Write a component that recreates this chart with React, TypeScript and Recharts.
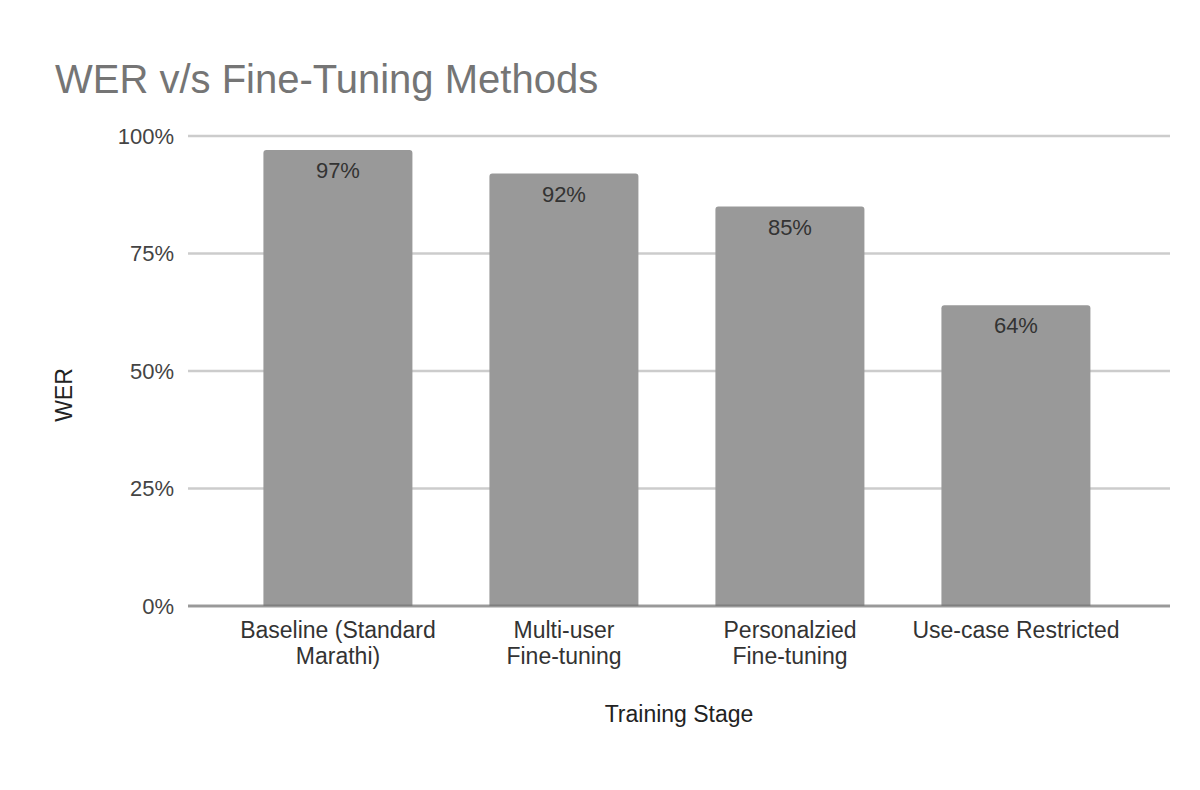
import React from "react";
import { BarChart, Bar, XAxis, YAxis, CartesianGrid, LabelList, Label, ReferenceLine } from "recharts";

const stages = [
  "Baseline (Standard Marathi)",
  "Multi-user Fine-tuning",
  "Personalzied Fine-tuning",
  "Use-case Restricted",
];
const stageLines = [
  ["Baseline (Standard", "Marathi)"],
  ["Multi-user", "Fine-tuning"],
  ["Personalzied", "Fine-tuning"],
  ["Use-case Restricted"],
];
const wer = [97, 92, 85, 64];
const yTicks = [0, 25, 50, 75, 100];

const data = stages.map((stage, i) => ({ stage, wer: wer[i] }));

const FONT = '"Liberation Sans", Arial, sans-serif';

function StageTick(props: any) {
  const { x, y, payload } = props;
  const idx = stages.indexOf(payload.value);
  const lines = idx >= 0 ? stageLines[idx] : [String(payload.value)];
  return (
    <g>
      {lines.map((line, i) => (
        <text key={i} x={x} y={y + 32 + i * 26} textAnchor="middle" fontSize={23} fill="#333" fontFamily={FONT}>
          {line}
        </text>
      ))}
    </g>
  );
}

function ValueLabel(props: any) {
  const { x, y, width, value } = props;
  return (
    <text x={x + width / 2} y={y + 28} textAnchor="middle" fontSize={22} fill="#333" fontFamily={FONT}>
      {`${value}%`}
    </text>
  );
}

function YTitle(props: any) {
  const vb = props.viewBox || { x: 48, y: 136, width: 140, height: 470 };
  const cx = vb.x + 16;
  const cy = vb.y + vb.height / 2 + 24;
  return (
    <text x={cx} y={cy} transform={`rotate(-90, ${cx}, ${cy})`} textAnchor="middle" dominantBaseline="central" fontSize={23} fill="#222" fontFamily={FONT}>
      WER
    </text>
  );
}

function XTitle(props: any) {
  const vb = props.viewBox || { x: 188, y: 606, width: 982, height: 140 };
  return (
    <text x={vb.x + vb.width / 2} y={vb.y + 116} textAnchor="middle" fontSize={23} fill="#222" fontFamily={FONT}>
      Training Stage
    </text>
  );
}

export default function App() {
  return (
    <div style={{ position: "absolute", left: 0, top: 0, width: 1200, height: 790, background: "#fff", fontFamily: FONT }}>
      <div style={{ position: "absolute", left: 55, top: 59, fontSize: 40, lineHeight: "40px", color: "#757575", whiteSpace: "nowrap" }}>
        WER v/s Fine-Tuning Methods
      </div>
      <BarChart width={1200} height={790} data={data} margin={{ top: 136, right: 30, bottom: 44, left: 48 }} barCategoryGap="17%">
        <CartesianGrid vertical={false} stroke="#cccccc" strokeWidth={2.5} />
        <XAxis
          dataKey="stage"
          height={140}
          axisLine={false}
          tickLine={false}
          tickSize={0}
          tickMargin={0}
          interval={0}
          padding={{ left: 37, right: 41 }}
          tick={<StageTick />}
        >
          <Label content={<XTitle />} />
        </XAxis>
        <YAxis
          width={140}
          domain={[0, 100]}
          ticks={yTicks}
          axisLine={false}
          tickLine={false}
          tickSize={0}
          tickMargin={14}
          tickFormatter={(v: number) => `${v}%`}
          tick={{ fontSize: 22, fill: "#444", fontFamily: FONT }}
        >
          <Label content={<YTitle />} />
        </YAxis>
        <Bar dataKey="wer" fill="#999999" radius={[3, 3, 0, 0]} isAnimationActive={false}>
          <LabelList dataKey="wer" content={<ValueLabel />} />
        </Bar>
        <ReferenceLine y={0} stroke="#666666" strokeOpacity={0.5} strokeWidth={3} />
      </BarChart>
    </div>
  );
}
